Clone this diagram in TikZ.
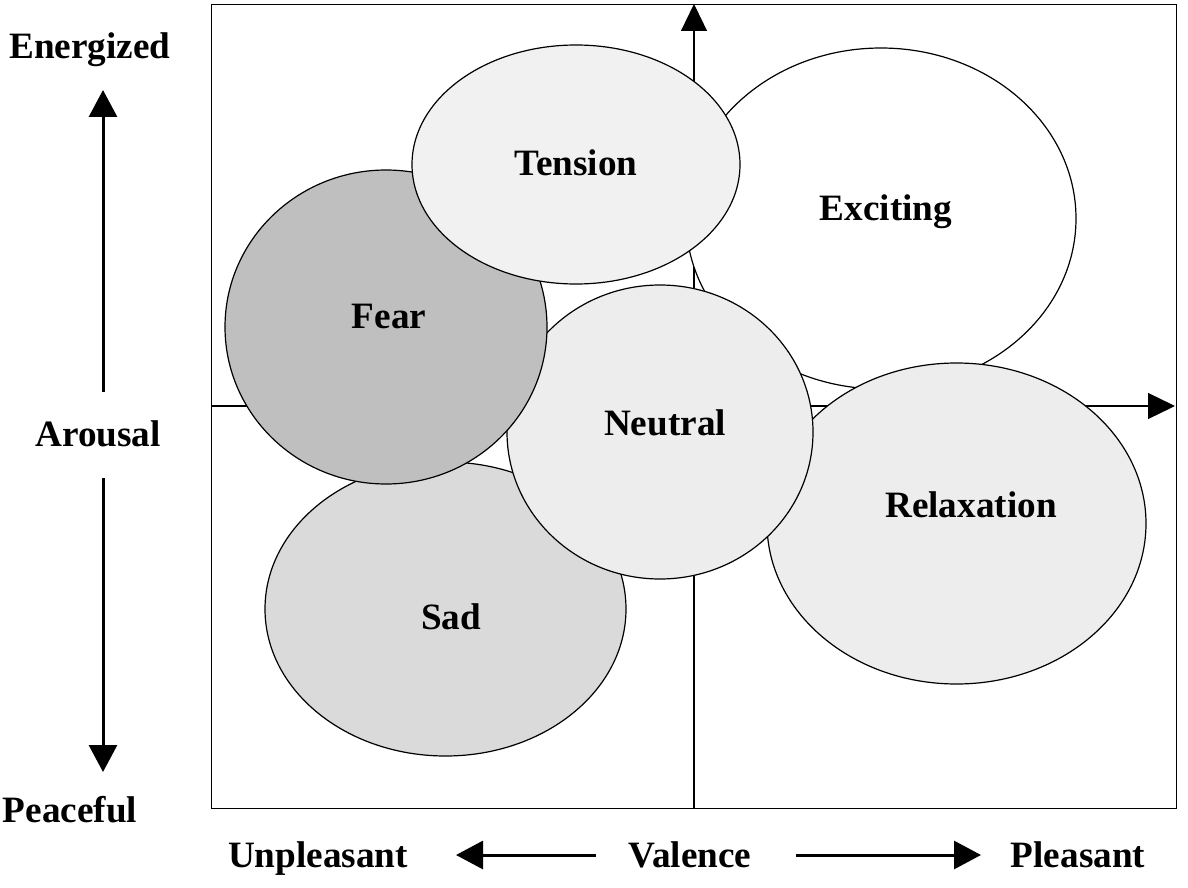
\documentclass[tikz,border=0pt]{standalone}
\usepackage{fontspec}
\setmainfont{Liberation Serif}
\usetikzlibrary{shapes.geometric,arrows.meta}
\begin{document}
\begin{tikzpicture}[x=0.5pt,y=-0.5pt,
  lbl/.style={font=\fontsize{18.6}{22}\selectfont\bfseries, anchor=base, inner sep=0pt},
  blob/.style={ellipse, draw=black, line width=0.6pt, inner sep=0pt},
  axis/.style={line width=0.6pt, -{Triangle[length=13.5pt,width=13pt]}},
  dimarrow/.style={line width=1.5pt, -{Triangle[length=13.5pt,width=14pt]}}]
\useasboundingbox (0,0) rectangle (1188,888);
\fill[white] (0,0) rectangle (1188,888);

% plot frame
\node[draw, line width=0.6pt, minimum width=482.5pt, minimum height=402pt,
      anchor=north west, inner sep=0pt] (frame) at (211,4) {};

% valence / arousal axes
\coordinate (xStart) at (211,406);
\coordinate (xEnd) at (1175,406);
\coordinate (yStart) at (694,808);
\coordinate (yEnd) at (694,4);
\draw[axis] (xStart) -- (xEnd);
\draw[axis] (yStart) -- (yEnd);

% emotion regions, back to front
\node[blob, fill=white, minimum width=195pt, minimum height=170.5pt] (exciting) at (881,218.5) {};
\node[blob, fill=gray!14, minimum width=189.5pt, minimum height=160.5pt] (relaxation) at (956.5,523.5) {};
\node[blob, fill=gray!29, minimum width=180.5pt, minimum height=147pt] (sad) at (445.5,609) {};
\node[blob, fill=gray!14, minimum width=153pt, minimum height=147pt] (neutral) at (660,432) {};
\node[blob, fill=gray!50, minimum width=161pt, minimum height=157pt] (fear) at (386,327) {};
\node[blob, fill=gray!11, minimum width=164pt, minimum height=119.5pt] (tension) at (576,164.5) {};

% region labels
\node[lbl] (excitingLbl) at (886,220) {Exciting};
\node[lbl] (relaxLbl) at (971,517) {Relaxation};
\node[lbl] (sadLbl) at (451,629) {Sad};
\node[lbl] (neutralLbl) at (665,435) {Neutral};
\node[lbl] (fearLbl) at (389,328) {Fear};
\node[lbl] (tensionLbl) at (576,175) {Tension};

% arousal scale
\node[lbl] (energized) at (90,59) {Energized};
\node[lbl] (arousal) at (98,446) {Arousal};
\node[lbl] (peaceful) at (70,822) {Peaceful};
\coordinate (upTail) at (103,392);
\coordinate (upTip) at (103,90);
\coordinate (downTail) at (103,478);
\coordinate (downTip) at (103,772);
\draw[dimarrow] (upTail) -- (upTip);
\draw[dimarrow] (downTail) -- (downTip);

% valence scale
\node[lbl] (unpleasant) at (318,867) {Unpleasant};
\node[lbl] (valence) at (690,867) {Valence};
\node[lbl] (pleasant) at (1078,867) {Pleasant};
\coordinate (leftTail) at (596,855);
\coordinate (leftTip) at (456,855);
\coordinate (rightTail) at (796,855);
\coordinate (rightTip) at (981,855);
\draw[dimarrow] (leftTail) -- (leftTip);
\draw[dimarrow] (rightTail) -- (rightTip);
\end{tikzpicture}
\end{document}
